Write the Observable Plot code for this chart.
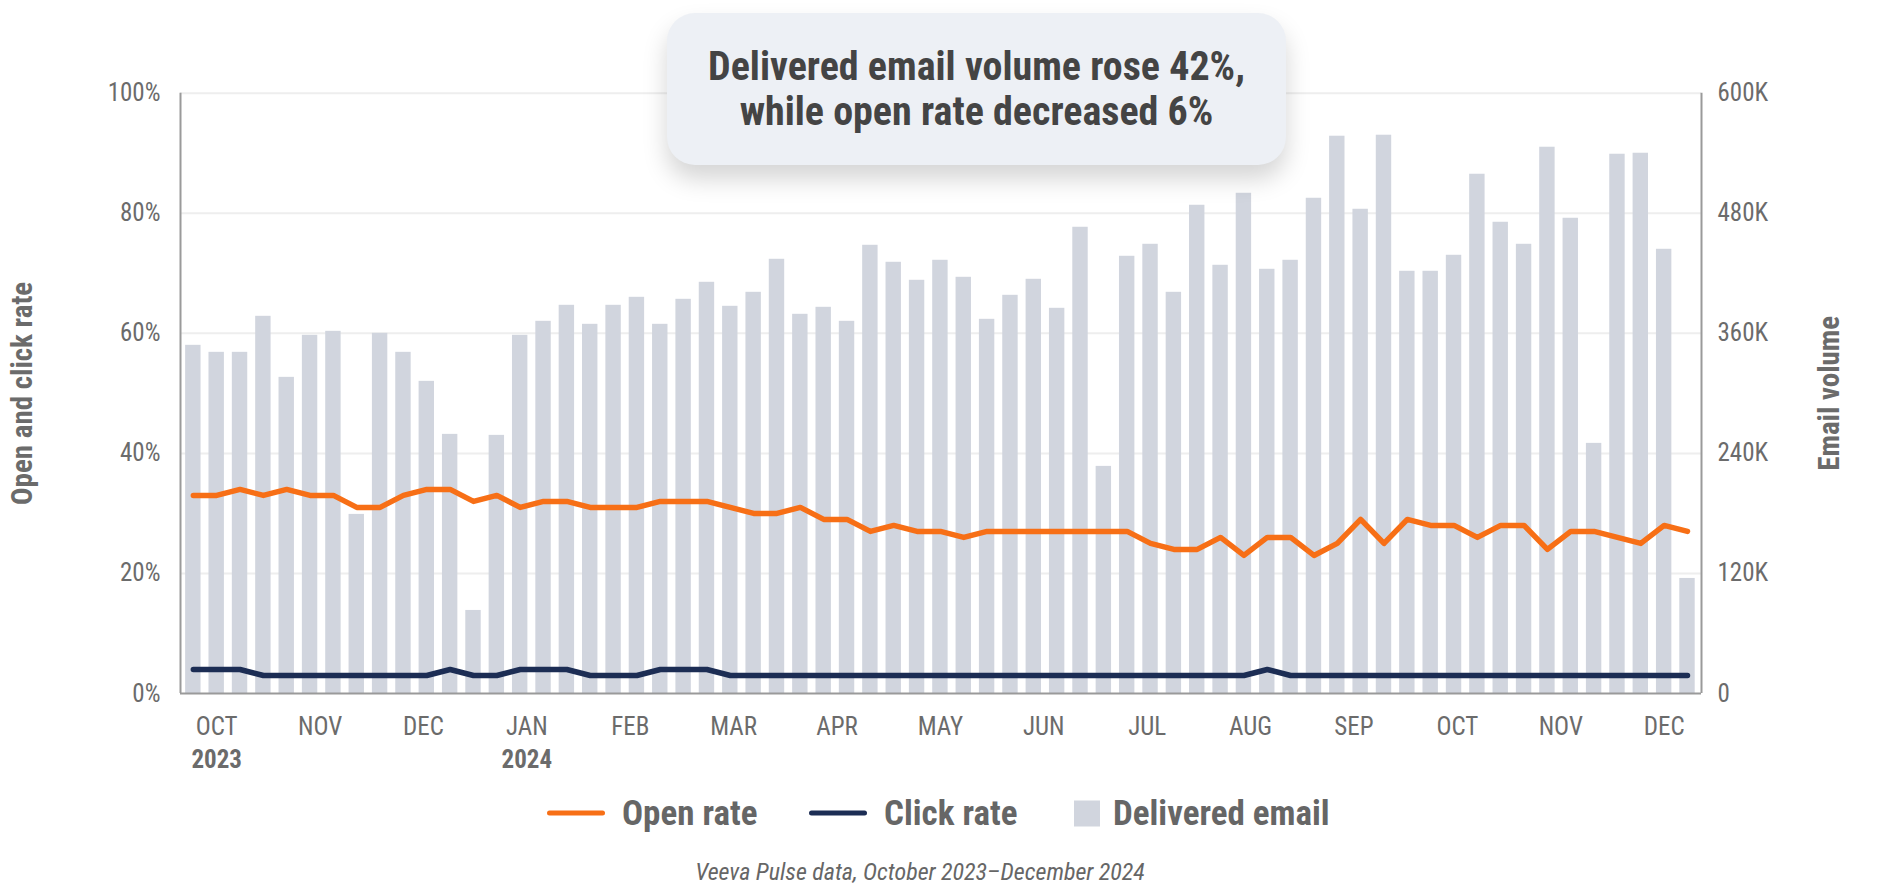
<!DOCTYPE html>
<html>
<head>
<meta charset="utf-8">
<script src="https://cdn.jsdelivr.net/npm/d3@7"></script>
<script src="https://cdn.jsdelivr.net/npm/@observablehq/plot@0.6"></script>
<style>
  body { margin: 0; background: #fff; }
  #wrap { position: relative; width: 1880px; height: 892px; overflow: hidden; background: #fff;
          font-family: "Roboto Condensed", Roboto, sans-serif; }
  #chart { position: absolute; left: 0; top: 0; }
  #callout { position: absolute; left: 667px; top: 13px; width: 619px; height: 152px;
             background: #edf0f5; border-radius: 28px; box-shadow: 0 14px 24px rgba(0,0,0,0.17);
             display: flex; flex-direction: column; align-items: center; justify-content: center; text-align: center;
             font-weight: 700; font-size: 40px; line-height: 45px; color: #444; }
  .leg { position: absolute; top: 813px; transform: translateY(-50%); display: flex; align-items: center;
         font-weight: 700; font-size: 35px; color: #666; white-space: nowrap; }
  .sw-line { width: 58px; height: 5px; border-radius: 3px; margin-right: 17px; }
  .sw-box { width: 26px; height: 26px; margin-right: 13px; }
  #caption { position: absolute; left: 0; width: 1840px; top: 857px; height: 30px; line-height: 30px;
             text-align: center; font-style: italic; font-size: 24px; color: #666; }
</style>
</head>
<body>
<div id="wrap">
  <div id="chart"></div>
  <div id="callout"></div>
  <div id="legend"></div>
  <div id="caption"></div>
</div>
<script>
// ---- data ----
const months = ["OCT","NOV","DEC","JAN","FEB","MAR","APR","MAY","JUN","JUL","AUG","SEP","OCT","NOV","DEC"];
const yearLabels = ["2023", "2024"];
const yearMonthIndex = [0, 3];

// delivered email per week, thousands
const volumeK = [348,341,341,377,316,358,362,179,360,341,
                 312,259,83,258,358,372,388,369,388,396,
                 369,394,411,387,401,434,379,386,372,448,
                 431,413,433,416,374,398,414,385,466,227,
                 437,449,401,488,428,500,424,433,495,557,
                 484,558,422,422,438,519,471,449,546,475,
                 250,539,540,444,115];
// open rate per week, %
const openRate = [33,33,34,33,34,33,33,31,31,33,
                  34,34,32,33,31,32,32,31,31,31,
                  32,32,32,31,30,30,31,29,29,27,
                  28,27,27,26,27,27,27,27,27,27,
                  27,25,24,24,26,23,26,26,23,25,
                  29,25,29,28,28,26,28,28,24,27,
                  27,26,25,28,27];
// click rate per week, %
const clickRate = [4,4,4,3,3,3,3,3,3,3,
                   3,4,3,3,4,4,4,3,3,3,
                   4,4,4,3,3,3,3,3,3,3,
                   3,3,3,3,3,3,3,3,3,3,
                   3,3,3,3,3,3,4,3,3,3,
                   3,3,3,3,3,3,3,3,3,3,
                   3,3,3,3,3];
const rateTicks = [0, 20, 40, 60, 80, 100];
const volumeMaxK = 600;

const titleLines = ["Delivered email volume rose 42%,", "while open rate decreased 6%"];
const leftTitle = "Open and click rate";
const rightTitle = "Email volume";
const caption = "Veeva Pulse data, October 2023\u2013December 2024";
const legendItems = [
  {label: "Open rate", kind: "line", color: "#f76f16", left: 547},
  {label: "Click rate", kind: "line", color: "#1c2d54", left: 809},
  {label: "Delivered email", kind: "box", color: "#d1d5de", left: 1074}
];

// ---- derived tables ----
const weeks = volumeK.map((v, i) => ({i, vol: v, open: openRate[i], click: clickRate[i]}));
const firstTickWeek = 1, weeksPerMonth = 31 / 7;
const monthTicks = months.map((m, k) => ({pos: firstTickWeek + k * weeksPerMonth, label: m}));
const years = yearLabels.map((y, k) => ({pos: monthTicks[yearMonthIndex[k]].pos, label: y}));
const xDomain = [-0.55, weeks.length - 0.4];

const font = '"Roboto Condensed", Roboto, sans-serif';
const grey = "#6b6b6b";

const chart = Plot.plot({
  width: 1880,
  height: 780,
  marginLeft: 180,
  marginRight: 179,
  marginTop: 92.7,
  marginBottom: 87,
  style: {fontFamily: font, background: "transparent", overflow: "visible"},
  x: {type: "linear", domain: xDomain, axis: null},
  y: {domain: [0, 100], axis: null},
  marks: [
    Plot.gridY({ticks: rateTicks.slice(1), stroke: "#eeeeee", strokeOpacity: 1, strokeWidth: 2}),
    Plot.rectY(weeks, {x1: d => d.i - 0.33, x2: d => d.i + 0.33, y1: 0, y2: d => d.vol / volumeMaxK * 100, fill: "#d1d5de"}),
    Plot.ruleX(xDomain, {stroke: "#9a9a9a", strokeWidth: 2}),
    Plot.ruleY([0], {stroke: "#9a9a9a", strokeWidth: 2}),
    Plot.line(weeks, {x: "i", y: "open", stroke: "#f76f16", strokeWidth: 5.5}),
    Plot.line(weeks, {x: "i", y: "click", stroke: "#1c2d54", strokeWidth: 5.5}),
    Plot.axisY({anchor: "left", ticks: rateTicks, tickSize: 0, tickPadding: 20, tickFormat: d => d + "%",
                fontSize: 25, color: grey, label: null}),
    Plot.axisY({anchor: "right", ticks: rateTicks, tickSize: 0, tickPadding: 16,
                tickFormat: d => d === 0 ? "0" : (d / 100 * volumeMaxK) + "K",
                fontSize: 25, color: grey, label: null}),
    Plot.text(monthTicks, {x: "pos", text: "label", frameAnchor: "bottom", dy: 33, lineAnchor: "middle",
                           fontSize: 25, fill: grey}),
    Plot.text(years, {x: "pos", text: "label", frameAnchor: "bottom", dy: 66, lineAnchor: "middle",
                      fontSize: 25, fontWeight: "bold", fill: grey}),
    Plot.text([leftTitle], {text: d => d, frameAnchor: "left", textAnchor: "middle", lineAnchor: "middle",
                            dx: -158, rotate: -90, fontSize: 29, fontWeight: "bold", fill: grey}),
    Plot.text([rightTitle], {text: d => d, frameAnchor: "right", textAnchor: "middle", lineAnchor: "middle",
                             dx: 128, rotate: -90, fontSize: 29, fontWeight: "bold", fill: grey})
  ]
});
document.getElementById("chart").appendChild(chart);

// callout
const callout = document.getElementById("callout");
callout.innerHTML = titleLines.map(t => `<div>${t}</div>`).join("");

// legend
const legend = document.getElementById("legend");
legendItems.forEach(it => {
  const el = document.createElement("div");
  el.className = "leg";
  el.style.left = it.left + "px";
  const sw = document.createElement("div");
  sw.className = it.kind === "line" ? "sw-line" : "sw-box";
  sw.style.background = it.color;
  const tx = document.createElement("span");
  tx.textContent = it.label;
  el.appendChild(sw); el.appendChild(tx);
  legend.appendChild(el);
});
document.getElementById("caption").textContent = caption;
</script>
</body>
</html>
